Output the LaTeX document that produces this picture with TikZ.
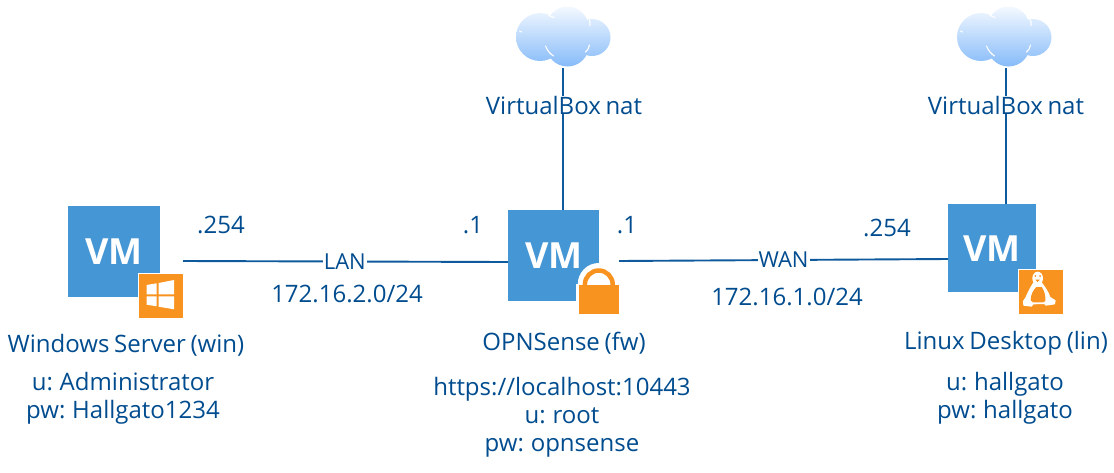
\documentclass[tikz,border=0pt]{standalone}
\usepackage{fontspec}
\setmainfont[WordSpace=0.75]{Open Sans}
\definecolor{txt}{HTML}{004C8F}
\definecolor{lne}{HTML}{0F5A9C}
\definecolor{vmb}{HTML}{4596D4}
\definecolor{org}{HTML}{F7931E}
\definecolor{cltop}{HTML}{F4F9FF}
\definecolor{clbot}{HTML}{86BBF9}
\tikzset{
 x=1pt,y=-1pt,
 lab/.style={text=txt,font=\fontsize{24}{28}\selectfont,inner sep=0pt,align=center},
 linklab/.style={lab,fill=white,inner xsep=1pt,inner ysep=1pt,font=\fontsize{22}{25}\selectfont},
 link/.style={draw=lne,line width=1.9pt},
 vmbox/.style={fill=vmb,draw=none,inner sep=0pt,text=white,font=\bfseries\fontsize{36}{36}\selectfont},
 badge/.style={fill=org,draw=white,line width=1.5pt,inner sep=0pt,anchor=north west},
 notch/.style={draw=white,line width=1.1pt,line cap=round},
}
\newcommand{\cloudat}[2]{%
 \begin{scope}[shift={(#1,#2)}]
  \shade[top color=cltop,bottom color=clbot]
   (-23.5,0) circle[radius=24] (4,-9.5) circle[radius=21] (4,8) circle[radius=21.5] (28.5,0.5) circle[radius=18.5];
  \draw[notch] (-18,9) .. controls (-16,14) and (-13,17) .. (-10,19);
  \draw[notch] (26,8) .. controls (25.5,11) and (24,13.5) .. (22,15);
  \draw[notch] (-15,-22) .. controls (-13.5,-21) and (-11,-20) .. (-9.5,-19.5);
  \draw[notch] (26,-17) .. controls (26.5,-15) and (26.8,-13) .. (26.5,-11.5);
  \draw[notch] (-44,-6) -- (-42,-5);
 \end{scope}}
\begin{document}
\begin{tikzpicture}
\useasboundingbox (0,0) rectangle (1114,472);
\coordinate (c1) at (563,68);
\coordinate (c2) at (1006,68);
\coordinate (winr) at (183,261);
\coordinate (fwr) at (619,261);
\node[vmbox,minimum width=92pt,minimum height=91pt,anchor=north west] (win) at (68,206) {VM};
\node[vmbox,minimum width=91pt,minimum height=91pt,anchor=north west] (fw) at (508,210) {VM};
\node[vmbox,minimum width=88pt,minimum height=88pt,anchor=north west] (lin) at (948,204) {VM};
\node[lab] (vb1) at (564,105) {VirtualBox nat};
\node[lab] (vb2) at (1006,105) {VirtualBox nat};
\draw[link] (c1) -- (vb1.north -| c1);
\draw[link] (vb1.south -| c1) -- (fw.north -| c1);
\draw[link] (c2) -- (vb2.north -| c2);
\draw[link] (vb2.south -| c2) -- (lin.north -| c2);
\draw[link] (winr) -- node[linklab,pos=0.498] (lan) {LAN} (fw.west |- 0,262);
\draw[link] (fwr) -- node[linklab] (wan) {WAN} (lin.west |- 0,259);
\cloudat{563.5}{37}
\cloudat{1004.5}{37}
% windows badge
\node[badge,minimum width=45pt,minimum height=45pt] (winb) at (137.75,272.5) {};
\fill[white] (146.7,285) -- (156.7,283.3) -- (156.7,294.3) -- (146.7,294.3) -- cycle
 (158.7,283) -- (174,280) -- (174,294.3) -- (158.7,294.3) -- cycle
 (146.7,296.3) -- (156.7,296.3) -- (156.7,306.3) -- (146.7,304.7) -- cycle
 (158.7,296.3) -- (174,296.3) -- (174,309.3) -- (158.7,306.7) -- cycle;
% lock badge
\fill[white] (576,317) -- (576,284) -- (577.8,284) arc[start angle=180,end angle=360,radius=21] -- (622,284) -- (622,317) -- cycle;
\node[fill=org,inner sep=0pt,minimum width=40pt,minimum height=29.4pt,anchor=north west] (lockb) at (579,284.3) {};
\draw[org,line width=4.5pt] (584.9,286) -- (584.9,284.4) arc[start angle=180,end angle=360,radius=13.9] -- (612.7,286);
% linux badge
\node[badge,minimum width=45pt,minimum height=45.5pt] (linb) at (1017.75,268.5) {};
\begin{scope}[shift={(1015,265)},x=0.3333pt,y=-0.3333pt]
 \fill[white] (55,52) -- (80,52) .. controls (90,65) and (100,78) .. (106,96) -- (122,106) -- (120,118) -- (92,122) -- (88,117) -- (55,118) -- (50,125) -- (25,122) -- (24,108) -- (32,96) .. controls (38,80) and (47,65) .. (55,52) -- cycle;
 \fill[white] (68,40) ellipse[x radius=16,y radius=20];
 \fill[org] (64,66) -- (80,66) .. controls (88,76) and (92,92) .. (91,108) -- (85,112) -- (54,112) -- (47,106) .. controls (47,90) and (54,76) .. (64,66) -- cycle;
 \fill[org] (61,33) circle[radius=3] (75,33) circle[radius=3];
 \fill[org] (61,44) -- (75,44) -- (68,51) -- cycle;
\end{scope}
% labels
\node[lab] (n1) at (221,225) {.254};
\node[lab] (n2) at (473,225) {.1};
\node[lab] (n3) at (627,225) {.1};
\node[lab] (n4) at (887,228) {.254};
\node[lab] (s1) at (347,294) {172.16.2.0/24};
\node[lab] (s2) at (787,297) {172.16.1.0/24};
\node[lab] (t1) at (126,345) {Windows Server (win)};
\node[lab] (t2) at (564,343) {OPNSense (fw)};
\node[lab] (t3) at (1006,343) {Linux Desktop (lin)};
\node[lab] (u1) at (123,398) {u: Administrator\\pw: Hallgato1234};
\node[lab] (u2) at (562,417) {https://localhost:10443\\u: root\\pw: opnsense};
\node[lab] (u3) at (1005,398) {u: hallgato\\pw: hallgato};
\end{tikzpicture}
\end{document}
